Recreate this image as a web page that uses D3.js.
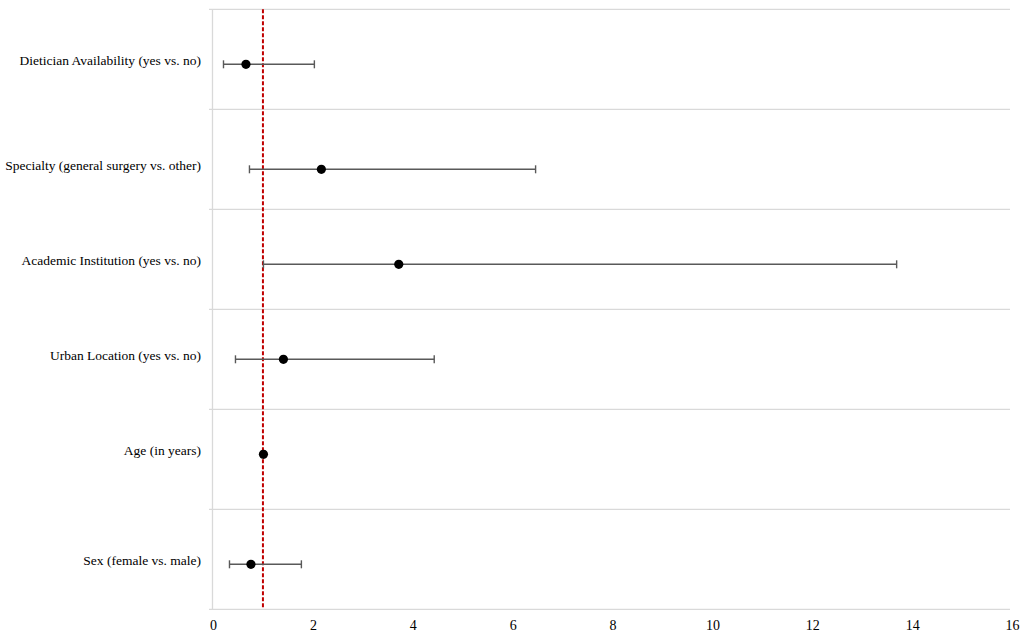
<!DOCTYPE html>
<html><head><meta charset="utf-8">
<script src="https://cdn.jsdelivr.net/npm/d3@7/dist/d3.min.js"></script>
<style>body{margin:0;background:#fff}svg{display:block}</style>
</head><body>
<svg id="c" width="1022" height="635"></svg>
<script>
const categories = ["Dietician Availability (yes vs. no)","Specialty (general surgery vs. other)","Academic Institution (yes vs. no)","Urban Location (yes vs. no)","Age (in years)","Sex (female vs. male)"];
const oddsRatio = [0.66, 2.17, 3.72, 1.41, 1.01, 0.76];
const ciLower  = [0.21, 0.73, 1.01, 0.45, 0.97, 0.33];
const ciUpper  = [2.03, 6.46, 13.69, 4.43, 1.04, 1.77];
const rowValue = [5.45, 4.40, 3.45, 2.50, 1.55, 0.45];
const xTicks = [0,2,4,6,8,10,12,14,16];
const yGrid = [0,1,2,3,4,5,6];
const refValue = 1;

const svg = d3.select("#c");
const x = d3.scaleLinear().domain([0,16]).range([213,1012]);
const y = d3.scaleLinear().domain([0,6]).range([609.3,9.3]);
const font = "'Liberation Serif','Times New Roman',serif";

// gridlines
svg.append("g").selectAll("line").data(yGrid).join("line")
  .attr("x1",209).attr("x2",1010).attr("y1",d=>y(d)).attr("y2",d=>y(d))
  .attr("stroke","#d9d9d9").attr("stroke-width",1.3);
// vertical axis line
svg.append("line").attr("x1",x(0)-0.5).attr("x2",x(0)-0.5).attr("y1",y(6)).attr("y2",y(0))
  .attr("stroke","#d9d9d9").attr("stroke-width",1.3);

// x axis labels
const xa = svg.append("g").attr("transform",`translate(0,${y(0)})`)
  .call(d3.axisBottom(x).tickValues(xTicks).tickSize(0).tickPadding(11).tickFormat(d3.format("d")));
xa.select(".domain").remove();
xa.selectAll("text").attr("font-family",font).attr("font-size",14).attr("fill","#000");

// y labels
svg.append("g").selectAll("text").data(categories).join("text")
  .attr("x",201).attr("y",(d,i)=>y(rowValue[i])-4.5).attr("dy","0.35em")
  .attr("text-anchor","end").attr("font-family",font).attr("font-size",13.5).attr("fill","#000")
  .text(d=>d);

// reference line
svg.append("line").attr("x1",x(refValue)).attr("x2",x(refValue)).attr("y1",y(6)).attr("y2",y(0))
  .attr("stroke","#c00000").attr("stroke-width",2).attr("stroke-dasharray","4,2");

// error bars
const eb = svg.append("g").attr("stroke","#595959").attr("stroke-width",1.4);
categories.forEach((c,i)=>{
  const yy = y(rowValue[i]);
  eb.append("line").attr("x1",x(ciLower[i])).attr("x2",x(ciUpper[i])).attr("y1",yy).attr("y2",yy);
  eb.append("line").attr("x1",x(ciLower[i])).attr("x2",x(ciLower[i])).attr("y1",yy-4).attr("y2",yy+4);
  eb.append("line").attr("x1",x(ciUpper[i])).attr("x2",x(ciUpper[i])).attr("y1",yy-4).attr("y2",yy+4);
});

// points
svg.append("g").selectAll("circle").data(oddsRatio).join("circle")
  .attr("cx",d=>x(d)).attr("cy",(d,i)=>y(rowValue[i])).attr("r",4.6).attr("fill","#000");
</script>
</body></html>
